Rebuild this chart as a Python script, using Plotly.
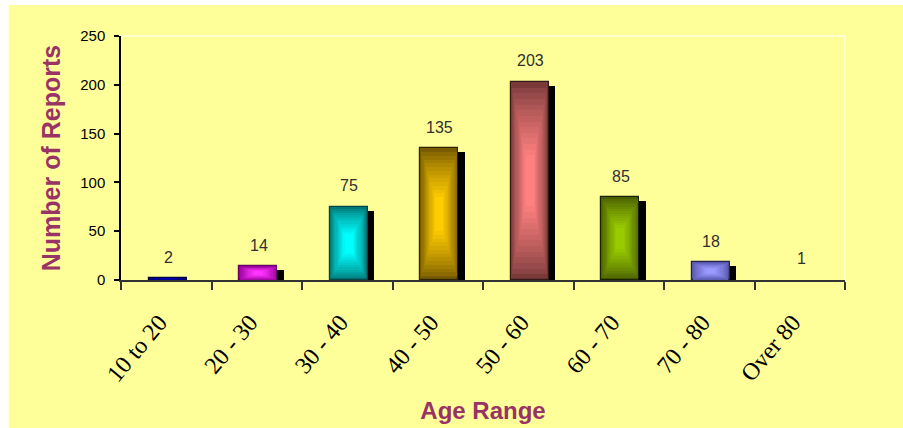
import plotly.graph_objects as go

categories = ["10 to 20", "20 - 30", "30 - 40", "40 - 50", "50 - 60", "60 - 70", "70 - 80", "Over 80"]
reports = [2, 14, 75, 135, 203, 85, 18, 1]
y_ticks = [0, 50, 100, 150, 200, 250]

edge_colors = ["#000066", "#990099", "#007777", "#7A5C00", "#7A3A3A", "#4A6000", "#5555AA", "#FFFF99"]
center_colors = ["#0000AA", "#FF33FF", "#00FFFF", "#FFCC00", "#FF8080", "#99CC00", "#9999FF", "#FFFF99"]
outline_colors = ["#000044", "#660066", "#004848", "#332200", "#331818", "#1A2200", "#222255", "#FFFF99"]

BAR_W = 0.42
BAR_SHIFT = 0.015
SHADOW_W = 0.075
N_LAYERS = 14


def hex_to_rgb(h):
    h = h.lstrip("#")
    return tuple(int(h[i:i + 2], 16) for i in (0, 2, 4))


def mix(c1, c2, t):
    a, b = hex_to_rgb(c1), hex_to_rgb(c2)
    return "rgb(%d,%d,%d)" % tuple(round(a[i] + (b[i] - a[i]) * t) for i in range(3))


fig = go.Figure()

# drop shadows
fig.add_trace(go.Bar(
    x=categories, y=[max(v - 4, 0) for v in reports],
    width=SHADOW_W, offset=BAR_W / 2 + BAR_SHIFT,
    marker=dict(color="black", line=dict(width=0)),
    hoverinfo="skip", showlegend=False,
))

# main bars (outer layer)
fig.add_trace(go.Bar(
    x=categories, y=reports, width=BAR_W, offset=-BAR_W / 2 + BAR_SHIFT,
    marker=dict(color=edge_colors, line=dict(color=outline_colors, width=1.2)),
    showlegend=False,
))

# inner gradient layers
for k in range(1, N_LAYERS):
    t = (k / (N_LAYERS - 1)) ** 0.8
    w = BAR_W * (1 - 0.85 * k / N_LAYERS)
    vf = 0.40 * k / N_LAYERS
    fig.add_trace(go.Bar(
        x=categories,
        y=[v * (1 - 2 * vf) for v in reports],
        base=[v * vf for v in reports],
        width=w, offset=-w / 2 + BAR_SHIFT,
        marker=dict(color=[mix(e, c, t) for e, c in zip(edge_colors, center_colors)],
                    line=dict(width=0)),
        hoverinfo="skip", showlegend=False,
    ))

# value labels
for c, v in zip(categories, reports):
    fig.add_annotation(
        x=c, y=v, text=str(v), showarrow=False, yshift=21, xshift=2,
        font=dict(family="Liberation Sans, Arial", size=16, color="#303030"),
    )

# yellow panel and faint white plot frame
fig.add_shape(type="rect", xref="paper", yref="paper",
              x0=-0.155, x1=1.2, y0=-0.8, y1=1.127,
              fillcolor="#FFFF99", line=dict(width=0), layer="below")
fig.add_shape(type="line", xref="paper", yref="paper", x0=0, x1=1, y0=1, y1=1,
              line=dict(color="white", width=1), layer="below")
fig.add_shape(type="line", xref="paper", yref="paper", x0=1, x1=1, y0=0, y1=1,
              line=dict(color="white", width=1), layer="below")

fig.update_layout(
    width=903, height=428,
    margin=dict(l=121, r=58, t=36, b=148, autoexpand=False),
    paper_bgcolor="white",
    plot_bgcolor="rgba(0,0,0,0)",
    barmode="overlay",
    bargap=0,
    showlegend=False,
)

fig.update_xaxes(
    type="category", automargin=False,
    categoryorder="array", categoryarray=categories,
    showline=True, linecolor="#333333", linewidth=1.5,
    ticks="outside", ticklen=8, tickwidth=1.5, tickcolor="#333333",
    tickson="boundaries",
    tickangle=-50,
    ticklabelstandoff=17,
    ticklabelshift=-7,
    tickfont=dict(family="Liberation Serif, Times New Roman", size=24, color="black"),
    showgrid=False, zeroline=False,
    title=dict(text="Age Range", standoff=16,
               font=dict(family="Liberation Sans, Arial", size=24, color="#993366", weight="bold")),
)

fig.update_yaxes(
    range=[0, 250], tickvals=y_ticks, automargin=False,
    showline=True, linecolor="black", linewidth=1.5,
    ticks="outside", ticklen=5, tickwidth=1.5, tickcolor="black",
    ticklabelstandoff=6,
    tickfont=dict(family="Liberation Sans, Arial", size=15, color="black"),
    showgrid=False, zeroline=False,
    title=dict(text="Number of Reports", standoff=12,
               font=dict(family="Liberation Sans, Arial", size=25, color="#993366", weight="bold")),
)

fig.write_html("out.html")
